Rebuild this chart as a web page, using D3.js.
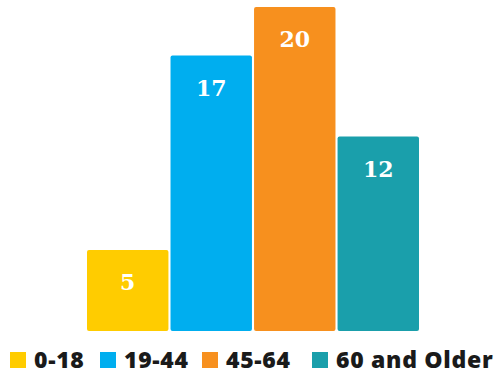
<!DOCTYPE html>
<html>
<head>
<meta charset="utf-8">
<script src="https://cdn.jsdelivr.net/npm/d3@7"></script>
<style>
  html, body { margin: 0; padding: 0; background: #fff; }
  svg { display: block; }
</style>
</head>
<body>
<div id="chart"></div>
<script>
const width = 499
const height = 375

// data
const categories = ['0-18', '19-44', '45-64', '60 and Older']
const values = [5, 17, 20, 12]
const colors = ['#ffcc00', '#00aeef', '#f7901e', '#1a9fab']

const svg = d3.select('#chart').append('svg')
    .attr('width', width)
    .attr('height', height);

const x = d3.scaleBand()
    .domain(categories)
    .range([87, 419])
    .paddingInner(0.025)
    .paddingOuter(0);

const y = d3.scaleLinear()
    .domain([0, 20])
    .range([331, 7]);

const color = d3.scaleOrdinal().domain(categories).range(colors);

// bars
svg.selectAll('rect.bar')
    .data(categories)
    .join('rect')
    .attr('class', 'bar')
    .attr('x', d => x(d))
    .attr('y', (d, i) => y(values[i]))
    .attr('width', x.bandwidth())
    .attr('height', (d, i) => y(0) - y(values[i]))
    .attr('rx', 2)
    .attr('fill', d => color(d));

// value labels inside bars
svg.selectAll('text.val')
    .data(categories)
    .join('text')
    .attr('class', 'val')
    .attr('x', d => x(d) + x.bandwidth() / 2)
    .attr('y', (d, i) => y(values[i]) + 32)
    .attr('text-anchor', 'middle')
    .attr('dominant-baseline', 'central')
    .attr('font-family', '"DejaVu Serif", serif')
    .attr('font-weight', 'bold')
    .attr('font-size', 22)
    .attr('fill', '#fff')
    .text((d, i) => values[i]);

// legend
const legendX = [10, 100, 202, 312];
const legend = svg.selectAll('g.leg')
    .data(categories)
    .join('g')
    .attr('class', 'leg')
    .attr('transform', (d, i) => `translate(${legendX[i]},352)`);

legend.append('rect')
    .attr('width', 16)
    .attr('height', 16)
    .attr('fill', d => color(d));

legend.append('text')
    .attr('x', 24)
    .attr('y', 7)
    .attr('dominant-baseline', 'central')
    .attr('font-family', '"Open Sans", sans-serif')
    .attr('font-weight', 800)
    .attr('font-size', 23)
    .attr('letter-spacing', 0.7)
    .attr('fill', '#1a1a1a')
    .text(d => d);
</script>
</body>
</html>
